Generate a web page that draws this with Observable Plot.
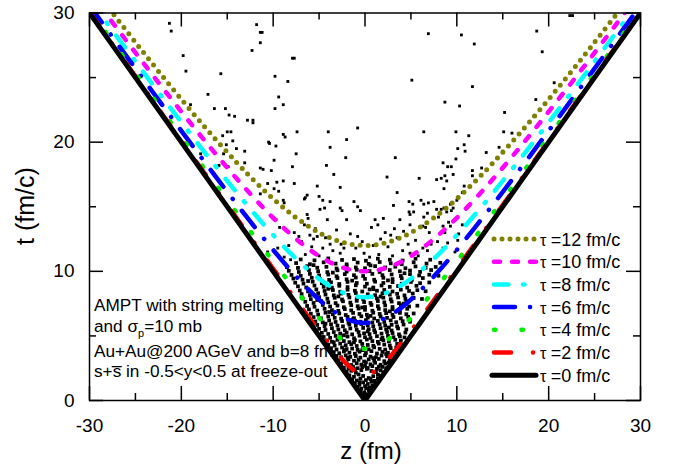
<!DOCTYPE html>
<html><head><meta charset="utf-8">
<script src="https://cdn.jsdelivr.net/npm/d3@7"></script>
<script src="https://cdn.jsdelivr.net/npm/@observablehq/plot@0.6"></script>
<style>body{margin:0;background:#fff} svg{display:block}</style>
</head><body><div id="chart"></div>
<script>
// ---------- data ----------
const tauValues = [12, 10, 8, 6, 4, 2, 0];
const tauLabels = ["=12 fm/c", "=10 fm/c", "=8 fm/c", "=6 fm/c", "=4 fm/c", "=2 fm/c", "=0 fm/c"];
const zHalf = [0, 1, 2, 3, 4, 5, 6, 8, 10, 12, 14, 17, 20, 23, 26, 30];
const tTau12 = [12, 12.04, 12.17, 12.37, 12.65, 13, 13.42, 14.42, 15.62, 16.97, 18.44, 20.81, 23.32, 25.94, 28.64, 32.31];
const tTau10 = [10, 10.05, 10.2, 10.44, 10.77, 11.18, 11.66, 12.81, 14.14, 15.62, 17.2, 19.72, 22.36, 25.08, 27.86, 31.62];
const tTau8  = [8, 8.06, 8.25, 8.54, 8.94, 9.43, 10, 11.31, 12.81, 14.42, 16.12, 18.79, 21.54, 24.35, 27.2, 31.05];
const tTau6  = [6, 6.08, 6.32, 6.71, 7.21, 7.81, 8.49, 10, 11.66, 13.42, 15.23, 18.03, 20.88, 23.77, 26.68, 30.59];
const tTau4  = [4, 4.12, 4.47, 5, 5.66, 6.4, 7.21, 8.94, 10.77, 12.65, 14.56, 17.46, 20.4, 23.35, 26.31, 30.27];
const tTau2  = [2, 2.24, 2.83, 3.61, 4.47, 5.39, 6.32, 8.25, 10.2, 12.17, 14.14, 17.12, 20.1, 23.09, 26.08, 30.07];
const tTau0  = [0, 1, 2, 3, 4, 5, 6, 8, 10, 12, 14, 17, 20, 23, 26, 30];

const xMajor = [-30, -20, -10, 0, 10, 20, 30];
const xMinor = [-25, -15, -5, 5, 15, 25];
const yMajor = [0, 10, 20, 30];
const yMinor = [5, 15, 25];

const sparsePts = [
[-21.3,29.2],[-21.1,28.6],[-11.8,29.1],[-11.4,28.5],[-11.2,28.5],[-11.4,27.7],[-12.3,27.1],[-19.8,26.7],[-7.9,26.5],[-7.7,26.5],
[-19.5,25.5],[-15.7,25.3],[-9.8,25.1],[-8.4,24.7],[-17.1,23.7],[-9.4,23.5],[-19.0,22.9],[-8.9,22.9],[-16.4,22.6],[-9.8,22.6],
[-15.2,22.6],[-14.8,22.1],[-14.2,22.0],[-12.8,21.7],[-12.2,21.7],[-12.2,21.5],[-15.0,20.8],[-14.6,20.8],[-15.5,20.5],[-14.4,20.1],
[-15.1,19.8],[-14.0,19.5],[-10.5,20.0],[-10.4,19.9],[-9.7,19.7],[-8.9,20.6],[-8.7,20.4],[-7.4,20.8],[-4.0,20.8],[-0.8,21.1],
[-2.0,20.2],[-3.8,19.6],[-7.5,19.1],[-13.1,19.3],[-15.4,19.1],[-17.9,19.1],[-2.1,18.8],[-9.9,18.6],[-13.1,18.4],[-14.9,18.1],
[-15.9,18.2],[-11.4,18.0],[-11.1,17.9],[-10.2,17.8],[-7.9,18.1],[-4.2,18.2],
[22.3,29.8],[22.6,29.8],[6.9,28.4],[10.5,28.3],[18.7,28.6],[11.9,27.6],[19.3,27.0],[5.1,24.8],[11.7,24.3],[20.6,24.6],
[8.7,23.1],[10.3,22.8],[18.6,23.3],[15.2,22.3],[18.4,22.0],[6.4,20.8],[9.9,20.8],[11.3,20.5],[15.1,20.8],[16.0,20.7],
[10.8,19.8],[10.1,19.5],[10.9,19.3],[14.6,19.6],[15.0,19.3],[13.2,19.2],[3.3,18.8],[8.5,18.4],[9.0,18.1],[9.4,18.1],
[12.7,18.0],[11.7,17.8],[9.9,18.7],
[-3.4,17.5],[2.4,17.3],[5.9,17.2],[7.8,17.1],[8.3,17.2],[8.7,17.4],[8.9,17.0],[9.6,17.5],[11.7,17.4],[-9.6,16.9],
[-8.9,17.0],[-7.7,16.8],[-2.7,16.5],[-5.2,16.6],[3.5,16.1],[8.6,16.4],[-11.4,16.0],[-9.4,16.2],[-8.9,15.5],[-6.6,15.6],
[-6.3,15.9],[-5.0,15.8],[-4.6,15.5],[-4.4,14.9],[-3.8,15.4],[-4.9,14.8],[-2.7,14.9],[-2.5,14.7],[-1.2,15.4],[-0.8,15.0],
[-0.5,14.7],[3.1,15.1],[4.8,15.4],[5.2,15.2],[6.1,15.5],[6.4,15.2],[6.9,15.3],[7.5,15.4],[4.8,14.6],[4.9,14.4],
[5.3,14.6],[6.8,14.5],[6.4,14.2],[7.8,14.8],[8.3,14.8],[8.6,14.9],[8.9,14.6],[9.6,14.9],[-4.1,14.0],[-2.0,14.0],
[1.1,14.0],[1.4,13.6],[0.7,13.4],[2.0,14.1],[3.2,13.3],[3.8,14.0],[4.2,13.1],[4.9,13.6],[6.3,13.5],[6.6,13.4],
[8.5,13.5],[9.1,13.8],[9.3,13.5],[-7.7,13.0],[-7.2,12.7],[-6.9,12.3],[-6.0,12.8],[-5.6,12.5],[-5.2,12.7],[-4.6,11.8],
[-3.8,12.1],[-3.5,11.6],[-2.6,12.1],[-2.3,11.8],[-2.7,11.4],[-0.8,12.7],[-0.3,12.3],[-0.1,11.4],[0.5,11.1],[1.7,12.5],
[2.5,11.9],[2.8,12.8],[3.5,12.6],[4.1,11.6],[4.7,12.1],[4.9,11.4],[6.3,11.8],[6.8,11.6],[7.2,12.1],[7.9,12.3],
[8.5,11.8],[9.0,12.2],[-11.3,11.4],[-10.6,11.5],[-8.8,11.1],[-8.1,10.9],[-7.3,10.3],
[-6.5,11.3],[-5.8,11.9],[-5.0,11.2],[-4.3,12.6],[-3.1,13.2],[-1.6,12.9],[-1.0,11.8],[0.9,12.0],[1.5,11.3],[2.2,13.0],
[3.0,11.2],[5.5,12.4],[5.8,11.2],[7.0,13.0],[-6.6,13.6],[-5.4,13.3],[-8.3,12.0],[-9.5,11.8],[10.2,12.9],[9.8,11.5],
[10.6,13.6],[-10.6,16.8],[-9.9,16.4],[-6.5,15.7],[-8.8,15.3],[-6.3,14.4],[-6.2,14.1],[-9.7,14.0],[-9.3,13.4],[10.8,16.6],
[10.6,16.1],[10.0,15.5],[9.3,15.2],[9.4,14.7],[8.0,14.2],[8.7,13.0],[10.1,12.4]
];

const densePtsA = [
[-0.2,0.35],[0.1,0.5],[0.3,0.42],[-0.5,0.75],[-0.1,0.62],[0.4,0.8],[0.2,0.95],
[-0.8,1.05],[-0.4,0.92],[0.0,1.12],[0.5,1.0],[0.8,1.15],
[-1.1,1.34],[-0.6,1.22],[-0.2,1.4],[0.3,1.28],[0.7,1.45],[1.1,1.3],
[-1.4,1.62],[-0.9,1.55],[-0.5,1.7],[0.1,1.58],[0.6,1.66],[1.0,1.52],[1.4,1.72],
[-1.7,1.95],[-1.2,1.84],[-0.7,2.02],[-0.2,1.9],[0.9,1.88],[1.4,2.0],[1.7,1.92],
[-2.0,2.22],[-1.5,2.3],[-1.0,2.15],[-0.4,2.35],[0.2,2.45],[0.7,2.28],[1.2,2.2],[1.7,2.33],[2.0,2.18],
[-2.3,2.55],[-1.8,2.48],[-1.3,2.62],[-0.8,2.5],[-0.3,2.58],[0.3,2.52],[0.8,2.66],[1.3,2.45],[1.9,2.6],[2.3,2.5],
[-2.6,2.82],[-2.0,2.9],[-1.5,2.75],[-0.9,2.88],[-0.4,2.78],[0.1,2.95],[0.6,2.8],[1.1,2.92],[1.7,2.77],[2.2,2.86],[2.6,2.95],
[-2.9,3.12],[-2.4,3.05],[-1.8,3.2],[-1.2,3.08],[-0.7,3.15],[-0.1,3.02],[0.4,3.18],[1.0,3.1],[1.5,3.22],[2.1,3.04],[2.7,3.16],
[-3.1,3.45],[-2.6,3.35],[-2.1,3.5],[-1.6,3.38],[-1.0,3.44],[-0.5,3.32],[0.0,3.5],[0.6,3.4],[1.2,3.36],[1.8,3.48],[2.4,3.42],[3.0,3.5],
[-3.4,3.75],[-2.8,3.66],[-2.3,3.8],[-1.7,3.7],[-1.1,3.62],[-0.6,3.78],[0.1,3.68],[0.7,3.82],[1.3,3.64],[1.9,3.76],[2.5,3.7],[3.2,3.8],
[-0.6,1.42],[0.4,1.74],[-1.1,2.42],[0.0,2.68],[1.5,2.62],[-1.9,3.3],[0.9,3.28],[2.3,3.6],[-0.3,3.9],[-2.2,3.9]
];

const densePtsB = [
[-3.7,4.05],[-3.1,3.95],[-2.5,4.1],[-2.0,3.98],[-1.4,4.02],[-0.8,3.92],[-0.2,4.08],[0.4,3.96],[1.0,4.12],[1.6,4.0],[2.2,3.94],[2.8,4.06],[3.4,4.1],
[-4.0,4.32],[-3.3,4.25],[-2.7,4.4],[-2.1,4.28],[-1.5,4.36],[-0.9,4.22],[-0.3,4.38],[0.3,4.3],[0.9,4.24],[1.5,4.4],[2.1,4.33],[2.7,4.26],[3.5,4.38],
[-4.2,4.64],[-3.6,4.55],[-3.0,4.7],[-2.3,4.6],[-1.7,4.52],[-1.1,4.68],[-0.5,4.58],[0.2,4.72],[0.8,4.6],[1.4,4.54],[2.0,4.66],[2.6,4.58],[3.3,4.7],[3.9,4.62],
[-4.5,4.92],[-3.8,4.85],[-3.2,5.0],[-2.6,4.88],[-1.9,4.95],[-1.2,4.82],[-0.6,5.02],[0.0,4.9],[0.6,4.84],[1.3,4.98],[1.9,4.86],[2.5,5.0],[3.1,4.9],[3.8,4.96],[4.3,4.88],
[-4.7,5.24],[-4.0,5.15],[-3.4,5.3],[-2.7,5.18],[-2.0,5.26],[-1.4,5.12],[-0.7,5.3],[-0.1,5.2],[0.5,5.14],[1.1,5.28],[1.8,5.18],[2.4,5.3],[3.0,5.22],[3.7,5.12],[4.4,5.26],
[-5.0,5.55],[-4.3,5.46],[-3.6,5.6],[-2.9,5.5],[-2.2,5.44],[-1.6,5.58],[-0.9,5.48],[-0.2,5.62],[0.4,5.52],[1.0,5.45],[1.7,5.6],[2.3,5.5],[2.9,5.42],[3.6,5.58],[4.5,5.5],
[-5.2,5.85],[-4.4,5.76],[-3.7,5.9],[-3.0,5.8],[-2.4,5.74],[-1.7,5.88],[-1.0,5.78],[-0.4,5.92],[0.3,5.82],[0.9,5.75],[1.6,5.9],[2.2,5.8],[2.9,5.86],[3.5,5.74],[4.2,5.88],
[-5.4,6.12],[-4.6,6.05],[-3.9,6.2],[-3.2,6.08],[-2.5,6.15],[-1.8,6.02],[-1.1,6.18],[-0.5,6.1],[0.1,6.22],[0.8,6.04],[1.4,6.16],[2.1,6.08],[2.8,6.2],[3.4,6.06],[4.1,6.14],[4.9,6.1],
[-5.6,6.45],[-4.8,6.36],[-4.0,6.5],[-3.3,6.4],[-2.6,6.34],[-1.9,6.48],[-1.2,6.38],[-0.4,6.52],[0.3,6.42],[1.0,6.35],[1.7,6.5],[2.4,6.4],[3.1,6.46],[3.9,6.36],[4.7,6.48],
[-5.9,6.72],[-5.1,6.65],[-4.3,6.8],[-3.5,6.68],[-2.8,6.74],[-2.1,6.62],[-1.3,6.78],[-0.6,6.7],[0.2,6.64],[0.9,6.8],[1.6,6.7],[2.3,6.76],[3.0,6.64],[3.8,6.78],[4.5,6.68],[5.3,6.74],
[-6.1,7.05],[-5.2,6.96],[-4.4,7.1],[-3.6,7.0],[-2.9,6.94],[-2.2,7.08],[-1.5,6.98],[-0.7,7.12],[0.0,7.02],[0.8,6.95],[1.5,7.1],[2.2,7.0],[3.0,7.06],[3.8,6.96],[4.6,7.1],
[-6.3,7.32],[-5.5,7.26],[-4.6,7.4],[-3.8,7.28],[-3.0,7.35],[-2.3,7.22],[-1.5,7.38],[-0.8,7.3],[0.0,7.24],[0.7,7.4],[1.4,7.3],[2.2,7.36],[3.0,7.24],[3.9,7.38],[4.8,7.28],[5.7,7.34],
[-3.4,4.5],[-1.2,4.5],[1.8,4.75],[-2.3,5.05],[0.3,5.35],[-4.3,5.95],[2.6,5.65],[-1.3,6.3],[0.6,6.55],[-3.9,6.85],[2.7,6.9],[-0.3,7.2],[4.2,7.5]
];

const densePtsC = [
[-6.5,7.64],[-5.6,7.55],[-4.8,7.7],[-4.0,7.6],[-3.2,7.54],[-2.4,7.68],[-1.6,7.58],[-0.9,7.72],[-0.1,7.62],[0.6,7.55],[1.4,7.7],[2.1,7.6],[2.9,7.66],[3.7,7.54],[4.5,7.68],
[-6.8,7.92],[-5.9,7.85],[-5.0,8.0],[-4.1,7.88],[-3.3,7.95],[-2.5,7.82],[-1.7,7.98],[-0.9,7.9],[-0.2,7.84],[0.6,8.0],[1.3,7.9],[2.0,7.96],[2.8,7.84],[3.6,7.98],[4.4,7.88],[5.3,7.94],[6.2,7.86],
[-6.9,8.24],[-6.0,8.15],[-5.1,8.3],[-4.3,8.2],[-3.4,8.14],[-2.6,8.28],[-1.8,8.18],[-1.0,8.32],[0.3,8.22],[1.1,8.15],[1.9,8.3],[2.7,8.2],[3.5,8.26],[4.3,8.14],[5.2,8.28],
[-7.1,8.52],[-6.2,8.45],[-5.3,8.6],[-4.4,8.48],[-3.5,8.55],[-2.7,8.42],[-1.9,8.58],[-1.1,8.5],[-0.3,8.44],[0.5,8.6],[1.3,8.5],[2.1,8.56],[3.0,8.44],[3.9,8.58],[4.8,8.48],[5.7,8.54],[6.6,8.46],
[-7.3,8.84],[-6.4,8.75],[-5.5,8.9],[-4.5,8.8],[-3.6,8.74],[-2.8,8.88],[-1.9,8.78],[-1.0,8.92],[0.0,8.82],[0.9,8.75],[1.8,8.9],[2.7,8.8],[3.6,8.86],[4.6,8.74],[5.6,8.88],
[-7.6,9.12],[-6.7,9.05],[-5.7,9.2],[-4.7,9.08],[-3.7,9.15],[-2.8,9.02],[-1.9,9.18],[-0.9,9.1],[0.2,9.04],[1.1,9.2],[2.0,9.1],[3.0,9.16],[4.0,9.04],[5.0,9.18],[6.0,9.08],[7.0,9.14],
[-7.8,9.44],[-6.8,9.35],[-5.8,9.5],[-4.9,9.4],[-3.9,9.34],[-3.0,9.48],[-2.0,9.38],[-1.0,9.52],[0.0,9.42],[1.0,9.35],[2.0,9.5],[3.0,9.4],[4.0,9.46],[5.1,9.34],[6.3,9.48],
[-8.0,9.72],[-7.0,9.65],[-6.0,9.8],[-5.0,9.68],[-4.0,9.75],[-3.1,9.62],[-2.2,9.78],[-1.2,9.7],[-0.2,9.64],[0.8,9.8],[1.9,9.7],[2.9,9.76],[3.9,9.64],[4.9,9.78],[5.9,9.68],[7.0,9.74],[8.0,9.66],
[-8.3,10.04],[-7.2,9.95],[-6.1,10.1],[-5.1,10.0],[-4.1,9.94],[-3.0,10.08],[-2.0,9.98],[-0.9,10.12],[0.5,10.02],[1.6,9.95],[2.7,10.1],[3.8,10.0],[4.9,10.06],[6.0,9.96],[7.2,10.1],
[-8.5,10.32],[-7.3,10.26],[-6.3,10.4],[-5.2,10.28],[-4.2,10.35],[-3.1,10.22],[-2.0,10.38],[-1.0,10.3],[0.0,10.24],[1.1,10.4],[2.2,10.3],[3.3,10.36],[4.4,10.24],[5.5,10.38],[6.6,10.28],[7.7,10.34],
[-7.5,10.64],[-6.0,10.55],[-4.5,10.7],[-3.2,10.6],[-2.0,10.54],[-0.8,10.68],[0.4,10.58],[1.6,10.72],[2.8,10.62],[4.0,10.55],[5.3,10.7],[6.7,10.6],[8.2,10.66],
[-7.0,10.92],[-5.5,10.85],[-4.0,11.0],[-2.5,10.88],[-1.2,10.95],[0.1,10.82],[1.4,10.98],[2.7,10.9],[4.1,10.84],[5.5,10.98],[7.1,10.9],
[-5.2,7.78],[-2.9,8.06],[1.7,8.05],[-4.0,8.65],[0.9,8.62],[-6.2,9.25],[-1.4,9.28],[2.5,9.3],[-3.5,9.9],[4.3,9.85],[-5.6,10.48],[0.6,10.46]
];

// ---------- styles (kept apart from data) ----------
const tauColors = ["#808000", "#ff00ff", "#00ffff", "#0000ff", "#00ee00", "#ff0000", "#000000"];
const tauDash = ["0,8", "6,12", "14.5,14.5,1.5,14.5", "21,15,0.1,15", "1.5,26", "17,22,0.1,22", null];
const tauWidth = [5, 4.5, 4.5, 4.5, 4.5, 4.5, 5];

// ---------- build ----------
const halfT = [tTau12, tTau10, tTau8, tTau6, tTau4, tTau2, tTau0];
const curves = tauValues.map((tau, i) => {
  const rows = [];
  for (let j = zHalf.length - 1; j >= 1; j--) rows.push({z: -zHalf[j], t: halfT[i][j]});
  for (let j = 0; j < zHalf.length; j++) rows.push({z: zHalf[j], t: halfT[i][j]});
  return rows;
});
const densePts = densePtsA.concat(densePtsB, densePtsC);

const W = 673, H = 466, mL = 89, mR = 33, mT = 12.5, mB = 66;
const iW = W - mL - mR, iH = H - mT - mB;

const marks = [];
marks.push(Plot.dot(sparsePts, {x: d => d[0], y: d => d[1], symbol: "square", r: 1.6, fill: "black"}));
marks.push(Plot.dot(densePts, {x: d => d[0], y: d => d[1], symbol: "square", r: 2.1, fill: "black"}));
tauValues.forEach((tau, i) => {
  marks.push(Plot.line(curves[i], {
    x: "z", y: "t", stroke: tauColors[i], strokeWidth: tauWidth[i],
    strokeDasharray: tauDash[i] || undefined, strokeLinecap: "round", strokeLinejoin: "round",
    curve: tau === 0 ? "linear" : "catmull-rom", clip: true
  }));
});
// inward ticks on all four sides
marks.push(Plot.tickX(xMajor, {x: d => d, insetTop: iH - 14, strokeWidth: 1.5}));
marks.push(Plot.tickX(xMinor, {x: d => d, insetTop: iH - 7, strokeWidth: 1.5}));
marks.push(Plot.tickX(xMajor, {x: d => d, insetBottom: iH - 14, strokeWidth: 1.5}));
marks.push(Plot.tickX(xMinor, {x: d => d, insetBottom: iH - 7, strokeWidth: 1.5}));
marks.push(Plot.tickY(yMajor, {y: d => d, insetRight: iW - 14, strokeWidth: 1.5}));
marks.push(Plot.tickY(yMinor, {y: d => d, insetRight: iW - 7, strokeWidth: 1.5}));
marks.push(Plot.tickY(yMajor, {y: d => d, insetLeft: iW - 14, strokeWidth: 1.5}));
marks.push(Plot.tickY(yMinor, {y: d => d, insetLeft: iW - 7, strokeWidth: 1.5}));
marks.push(Plot.frame({strokeWidth: 1.5}));
marks.push(Plot.axisX({ticks: xMajor, tickSize: 0, tickPadding: 18, fontSize: 19, label: null, tickFormat: d => String(d)}));
marks.push(Plot.axisY({ticks: yMajor, tickSize: 0, tickPadding: 15, fontSize: 19, label: null, tickFormat: d => String(d)}));

const chart = Plot.plot({
  width: W, height: H,
  marginLeft: mL, marginRight: mR, marginTop: mT, marginBottom: mB,
  x: {domain: [-30, 30]},
  y: {domain: [0, 30]},
  style: {fontFamily: "'Liberation Sans', Arial, sans-serif", fontSize: "19px", background: "white", color: "black"},
  marks
});
document.getElementById("chart").appendChild(chart);

const svg = d3.select(chart);
const font = "'Liberation Sans', Arial, sans-serif";

// axis titles
svg.append("text").attr("x", 371).attr("y", 459).attr("text-anchor", "middle")
  .attr("font-family", font).attr("font-size", 24).attr("fill", "black").text("z (fm)");
svg.append("text").attr("transform", "translate(34,206) rotate(-90)").attr("text-anchor", "middle")
  .attr("font-family", font).attr("font-size", 25).attr("fill", "black").text("t (fm/c)");

// legend
tauValues.forEach((tau, i) => {
  const yy = 239 + i * 22.7;
  svg.append("line").attr("x1", tau === 0 ? 492 : 494).attr("x2", tau === 0 ? 536 : 537)
    .attr("y1", yy).attr("y2", yy)
    .attr("stroke", tauColors[i]).attr("stroke-width", tauWidth[i])
    .attr("stroke-linecap", "round")
    .attr("stroke-dasharray", tauDash[i] || null);
  const tx = svg.append("text").attr("x", 540).attr("y", yy + 6.5).attr("text-anchor", "start")
    .attr("font-family", font).attr("font-size", 18).attr("fill", "black");
  tx.append("tspan").attr("font-size", 16).text("τ ");
  tx.append("tspan").text(tauLabels[i]);
});

// annotation
const annText = ["AMPT with string melting", "", "Au+Au@200 AGeV and b=8 fm", "s+s\u0305 in -0.5<y<0.5 at freeze-out"];
const annBase = [311, 332, 357, 377];
annBase.forEach((b, i) => {
  const t = svg.append("text").attr("x", 94).attr("y", b).attr("text-anchor", "start")
    .attr("font-family", font).attr("font-size", 17.2).attr("fill", "black");
  if (i === 1) {
    t.append("tspan").text("and ");
    t.append("tspan").text("σ");
    t.append("tspan").attr("font-size", 11).attr("dy", 5).text("p");
    t.append("tspan").attr("dy", -5).text("=10 mb");
  } else {
    t.text(annText[i]);
  }
});
</script>
</body></html>
